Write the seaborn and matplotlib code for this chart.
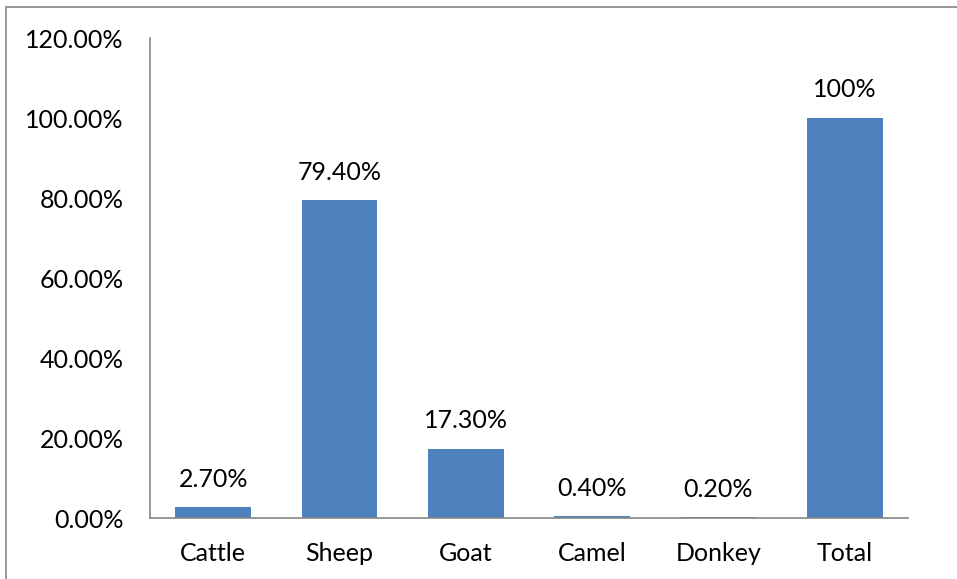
import matplotlib
matplotlib.use("Agg")
import matplotlib.pyplot as plt
import seaborn as sns
import pandas as pd
from matplotlib.patches import Rectangle

categories = ["Cattle", "Sheep", "Goat", "Camel", "Donkey", "Total"]
values = [2.70, 79.40, 17.30, 0.40, 0.20, 100.0]
labels = ["2.70%", "79.40%", "17.30%", "0.40%", "0.20%", "100%"]
yticks = [0, 20, 40, 60, 80, 100, 120]

sns.set_theme(style="white")
plt.rcParams['font.family'] = ['Lato', 'DejaVu Sans']

W, H = 957, 579
fig = plt.figure(figsize=(W / 100, H / 100), dpi=100)
ax = fig.add_axes([150 / W, (H - 518) / H, (908 - 150) / W, (518 - 38) / H])

df = pd.DataFrame({"cat": categories, "val": values})
sns.barplot(data=df, x="cat", y="val", color="#4F81BD", saturation=1, width=0.6, ax=ax)
for p in ax.patches:
    p.set_edgecolor("none")

FS = 18
ax.set_ylim(0, 120)
ax.set_xlim(-0.5, len(categories) - 0.5)
ax.set_yticks(yticks)
ax.set_yticklabels([f"{v:.2f}%" for v in yticks], fontsize=FS)
ax.set_xticks(range(len(categories)))
ax.set_xticklabels(categories, fontsize=FS)
ax.set_xlabel("")
ax.set_ylabel("")

# boundary ticks on x axis
ax.set_xticks([i - 0.5 for i in range(len(categories) + 1)], minor=True)
ax.tick_params(axis="x", which="major", length=0, pad=17, colors="black")
ax.tick_params(axis="x", which="minor", length=6, width=1.2, color="#868686", direction="out")
ax.tick_params(axis="y", which="major", length=0, pad=19, colors="black")

for s in ["top", "right"]:
    ax.spines[s].set_visible(False)
for s in ["left", "bottom"]:
    ax.spines[s].set_color("#868686")
    ax.spines[s].set_linewidth(1.2)

for i, (v, lab) in enumerate(zip(values, labels)):
    ax.annotate(lab, (i, v), xytext=(0, 12), textcoords="offset points",
                ha="center", va="bottom", fontsize=FS, color="black")

# outer chart border
fig.patches.append(Rectangle((6 / W, -0.05), 1.0, 1.05 - 7 / H,
                             transform=fig.transFigure, fill=False,
                             edgecolor="#868686", linewidth=1.2))

fig.savefig("out.png", dpi=100)
